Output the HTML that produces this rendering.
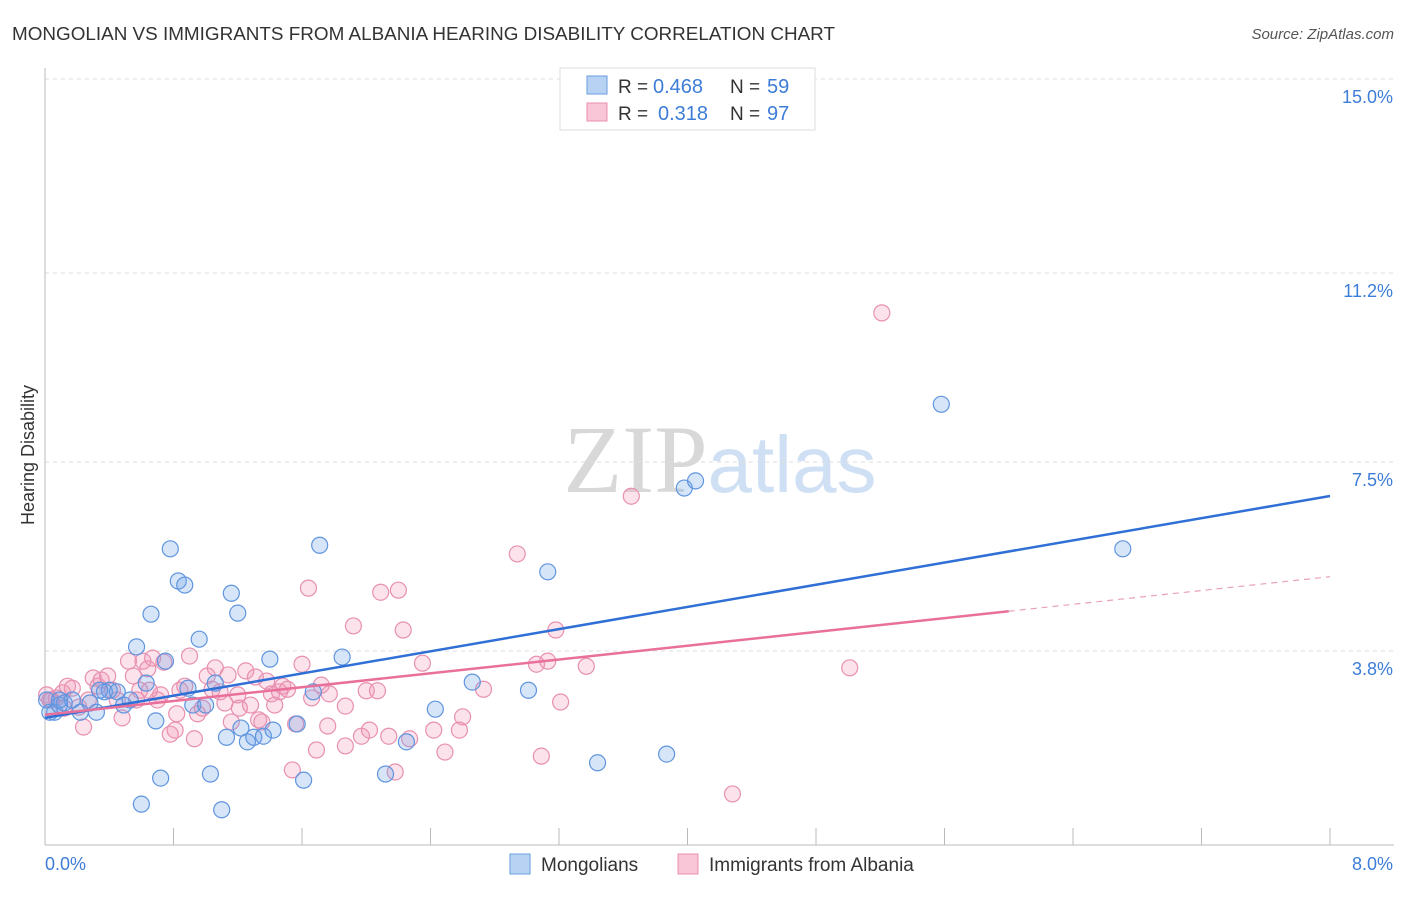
<!DOCTYPE html>
<html><head><meta charset="utf-8"><style>
body{margin:0;background:#fff;font-family:"Liberation Sans",sans-serif;}
svg text{font-family:"Liberation Sans",sans-serif;}
</style></head><body>
<svg id="chart" width="1406" height="892" xmlns="http://www.w3.org/2000/svg">
<text x="12" y="40" font-size="18" fill="#333" textLength="823" lengthAdjust="spacingAndGlyphs">MONGOLIAN VS IMMIGRANTS FROM ALBANIA HEARING DISABILITY CORRELATION CHART</text>
<text x="1394" y="39" font-size="15" fill="#555" font-style="italic" text-anchor="end">Source: ZipAtlas.com</text>
<text x="720" y="492" font-size="96" fill="#ddd" text-anchor="middle"><tspan font-family="Liberation Serif" fill="#d8d8d8">ZIP</tspan><tspan fill="#cfe0f4" font-size="80">atlas</tspan></text>
<g id="grid"></g>
<g id="axes"></g>
<g id="pts"></g>
<g id="lines"></g>
<text x="34" y="455" font-size="18" fill="#333" text-anchor="middle" transform="rotate(-90 34 455)">Hearing Disability</text>
<g>
<rect x="560" y="68" width="255" height="62" fill="#fff" stroke="#ddd"/>
<rect x="587" y="76" width="20" height="18" fill="#b8d2f4" stroke="#6a9de0"/>
<rect x="587" y="103" width="20" height="18" fill="#f8c6d6" stroke="#e890b0"/>
<text x="618" y="93" font-size="19" fill="#333">R =</text>
<text x="653" y="93" font-size="20" fill="#3d7dd8">0.468</text>
<text x="730" y="93" font-size="19" fill="#333">N =</text>
<text x="767" y="93" font-size="20" fill="#3d7dd8">59</text>
<text x="618" y="120" font-size="19" fill="#333">R =</text>
<text x="658" y="120" font-size="20" fill="#3d7dd8">0.318</text>
<text x="730" y="120" font-size="19" fill="#333">N =</text>
<text x="767" y="120" font-size="20" fill="#3d7dd8">97</text>
</g>
<g>
<rect x="510" y="854" width="20" height="20" fill="#b8d2f4" stroke="#6a9de0"/>
<text x="541" y="871" font-size="19" fill="#333">Mongolians</text>
<rect x="678" y="854" width="20" height="20" fill="#f8c6d6" stroke="#e890b0"/>
<text x="709" y="871" font-size="19" fill="#333">Immigrants from Albania</text>
</g>
</svg>
<script>
const yTicks=[3.8,7.5,11.2,15.0];
const yTickLabels=["3.8%","7.5%","11.2%","15.0%"];
const xTicks=[0,0.8,1.6,2.4,3.2,4.0,4.8,5.6,6.4,7.2,8.0];
const blueX=[.01,.03,.06,.09,.12,.17,.22,.28,.32,.37,.40,.45,.49,.53,.57,.60,.63,.66,.69,.72,.75,.78,.83,.87,.89,.92,.96,1.00,1.03,1.06,1.10,1.13,1.16,1.20,1.22,1.26,1.30,1.36,1.40,1.42,1.57,1.61,1.67,1.71,1.85,2.12,2.25,2.43,2.66,3.01,3.13,3.44,3.87,3.98,4.05,5.58,6.71,.34,.09];
const blueY=[2.84,2.60,2.60,2.74,2.78,2.84,2.60,2.78,2.60,3.00,3.03,3.00,2.74,2.84,3.88,0.80,3.17,4.52,2.43,1.31,3.60,5.80,5.17,5.09,3.07,2.74,4.03,2.74,1.39,3.17,0.69,2.11,4.93,4.54,2.29,2.02,2.11,2.13,3.64,2.25,2.37,1.27,3.00,5.87,3.68,1.39,2.02,2.66,3.19,3.03,5.35,1.61,1.78,6.99,7.13,8.63,5.80,3.03,2.84];
const pinkX=[.01,.04,.07,.11,.14,.17,.21,.24,.27,.30,.33,.35,.39,.42,.45,.48,.52,.55,.57,.61,.64,.67,.70,.72,.74,.78,.82,.84,.87,.90,.93,.95,.98,1.01,1.04,1.06,1.09,1.12,1.14,1.16,1.20,1.21,1.25,1.28,1.31,1.33,1.35,1.38,1.41,1.43,1.46,1.48,1.51,1.54,1.56,1.60,1.64,1.66,1.69,1.72,1.76,1.77,1.87,1.87,1.92,1.97,2.00,2.02,2.07,2.09,2.14,2.18,2.20,2.23,2.27,2.35,2.42,2.49,2.58,2.60,2.73,2.94,3.06,3.09,3.13,3.18,3.21,3.37,3.65,4.28,5.01,5.21,.03,.12,.59,.65,.81];
const pinkY=[2.94,2.84,2.88,2.98,3.11,3.07,2.70,2.31,2.84,3.27,3.11,3.23,3.31,3.03,2.84,2.49,3.60,3.31,2.84,3.60,3.45,3.66,2.84,2.94,3.58,2.17,2.57,3.03,3.11,3.70,2.08,2.57,2.68,3.31,3.05,3.47,3.00,2.78,3.33,2.41,2.94,2.68,3.41,2.74,3.29,2.45,2.41,3.21,2.96,2.74,3.00,3.11,3.05,1.47,2.37,3.54,5.03,2.88,1.86,3.13,2.33,2.96,2.72,1.94,4.29,2.13,3.02,2.25,3.02,4.95,2.13,1.43,4.99,4.21,2.08,3.56,2.25,1.82,2.25,2.51,3.05,5.70,3.54,1.74,3.60,4.21,2.80,3.50,6.83,1.00,3.47,10.42,2.84,2.68,3.03,3.03,2.25];
const blueFit=[2.49,0.543];
const pinkFit=[2.55,0.338];
const pinkSolidEnd=6.0;
const NS="http://www.w3.org/2000/svg";
const X=v=>45+v/8*1285, Y=v=>845-v/15*766;
function mk(t,a,p){const e=document.createElementNS(NS,t);for(const k in a)e.setAttribute(k,a[k]);p.appendChild(e);return e;}
const grid=document.getElementById('grid'),axes=document.getElementById('axes'),pts=document.getElementById('pts'),lines=document.getElementById('lines');
yTicks.forEach((v,i)=>{
 const l=mk('line',{x1:45,x2:1394,y1:Y(v),y2:Y(v),stroke:'#ddd','stroke-dasharray':'4,4'},grid);
 
 
 const t=mk('text',{x:1393,y:Y(v)+24,'font-size':18,fill:'#3d7dd8','text-anchor':'end'},axes);
 t.textContent=yTickLabels[i];
 
 
});
const al=mk('line',{x1:45,x2:45,y1:68,y2:845,stroke:'#bbb'},axes);


const bl=mk('line',{x1:45,x2:1394,y1:845,y2:845,stroke:'#bbb'},axes);


xTicks.forEach(v=>{
 const t=mk('line',{x1:X(v),x2:X(v),y1:828,y2:845,stroke:'#bbb'},axes);
 
 
});
[[0,'0.0%','start',45],[8,'8.0%','end',1393]].forEach(d=>{
 const t=mk('text',{x:d[3],y:870,'font-size':18,fill:'#3d7dd8','text-anchor':d[2]},axes);
 t.textContent=d[1];
 
 
});
function dots(xs,ys,fill,stroke,name){xs.forEach((x,i)=>{
 const c=mk('circle',{cx:X(x),cy:Y(ys[i]),r:8,fill:fill,stroke:stroke,'stroke-width':1.2},pts);
 
 
});}
dots(pinkX,pinkY,'rgba(242,150,182,0.28)','#e890b0','albania-point');
dots(blueX,blueY,'rgba(110,160,232,0.28)','#5f95de','mongolian-point');
const b=mk('line',{x1:X(0),y1:Y(blueFit[0]),x2:X(8),y2:Y(blueFit[0]+8*blueFit[1]),stroke:'#2f6fd6','stroke-width':2.5},lines);


const p=mk('line',{x1:X(0),y1:Y(pinkFit[0]),x2:X(pinkSolidEnd),y2:Y(pinkFit[0]+pinkSolidEnd*pinkFit[1]),stroke:'#e8709a','stroke-width':2.5},lines);


const pd=mk('line',{x1:X(pinkSolidEnd),y1:Y(pinkFit[0]+pinkSolidEnd*pinkFit[1]),x2:X(8),y2:Y(pinkFit[0]+8*pinkFit[1]),stroke:'#e8a0ba','stroke-width':1.2,'stroke-dasharray':'6,5'},lines);


</script>
</body></html>
